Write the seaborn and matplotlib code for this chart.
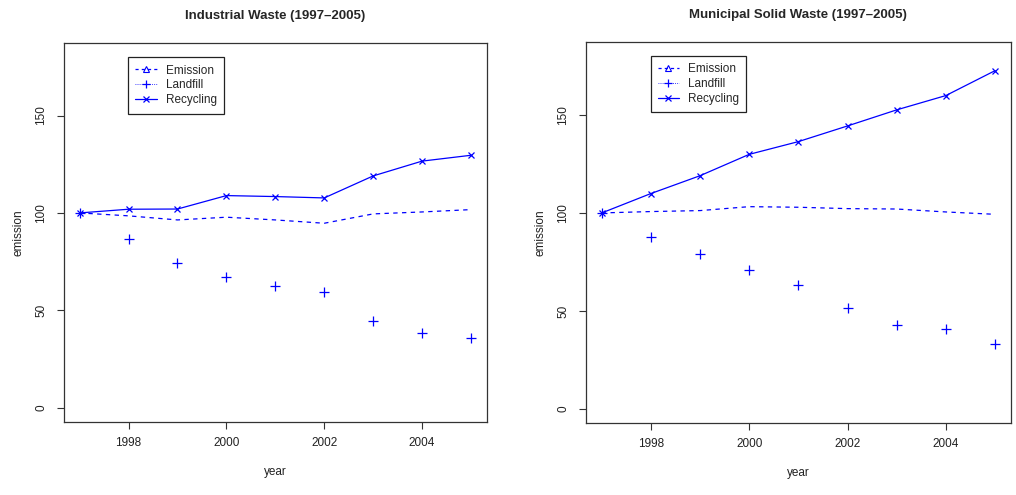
import numpy as np
import pandas as pd
import matplotlib
matplotlib.use("Agg")
import matplotlib.pyplot as plt
from matplotlib.lines import Line2D
import seaborn as sns

years = [1997, 1998, 1999, 2000, 2001, 2002, 2003, 2004, 2005]

ind_emission = [100, 98.5, 96.4, 97.8, 96.4, 94.7, 99.5, 100.5, 101.7]
ind_landfill = [100, 86.4, 74.4, 67.0, 62.5, 59.5, 44.5, 38.5, 35.6]
ind_recycling = [100, 101.9, 102.0, 108.9, 108.4, 107.7, 119.0, 126.6, 129.6]

mun_emission = [100, 100.7, 101.2, 103.2, 102.9, 102.2, 102.0, 100.5, 99.3]
mun_landfill = [100, 87.9, 79.2, 70.9, 63.3, 51.4, 42.9, 40.8, 33.2]
mun_recycling = [100, 109.9, 119.0, 129.9, 136.4, 144.4, 152.6, 159.9, 172.6]

titles = ["Industrial Waste (1997\u20132005)", "Municipal Solid Waste (1997\u20132005)"]
x_ticks = [1998, 2000, 2002, 2004]
y_ticks = [0, 50, 100, 150]
legend_labels = ["Emission", "Landfill", "Recycling"]

sns.set_style("ticks")
plt.rcParams['font.family'] = ['Liberation Sans', 'DejaVu Sans']

BLUE = "#0000FF"
fig = plt.figure(figsize=(10.16, 4.95), dpi=100)
ax1 = fig.add_axes([0.063, 0.148, 0.416, 0.765])
ax2 = fig.add_axes([0.5768, 0.1455, 0.418, 0.7695])

datasets = [
    (ax1, ind_emission, ind_landfill, ind_recycling, titles[0], (0.152, 0.962)),
    (ax2, mun_emission, mun_landfill, mun_recycling, titles[1], (0.152, 0.963)),
]

for ax, em, lf, rc, title, legpos in datasets:
    df = pd.DataFrame({"year": years, "emission": em, "landfill": lf, "recycling": rc})
    sns.lineplot(data=df, x="year", y="emission", ax=ax, color=BLUE, lw=0.9,
                 linestyle=(0, (3.5, 3.5)))
    sns.scatterplot(data=df, x="year", y="landfill", ax=ax, color=BLUE, marker="+",
                    s=50, linewidth=0.9)
    sns.lineplot(data=df, x="year", y="recycling", ax=ax, color=BLUE, lw=0.9,
                 marker="x", markersize=5, markeredgewidth=0.9, markeredgecolor=BLUE)

    ax.set_xlim(1996.68, 2005.32)
    ax.set_ylim(-7.2, 187.2)
    ax.set_xticks(x_ticks)
    ax.set_yticks(y_ticks)
    ax.set_xticklabels([str(v) for v in x_ticks], fontsize=8.5, color="#222222")
    ax.set_yticklabels([str(v) for v in y_ticks], fontsize=8.5, color="#222222",
                       rotation=90, va="center")
    ax.tick_params(axis="both", direction="out", length=5, width=0.8, color="#333333", pad=6)
    ax.tick_params(axis="y", pad=7)
    for sp in ax.spines.values():
        sp.set_visible(True)
        sp.set_linewidth(0.9)
        sp.set_color("#333333")
    ax.set_xlabel("year", fontsize=8.5, color="#222222", labelpad=12)
    ax.set_ylabel("emission", fontsize=8.5, color="#222222", labelpad=8)
    ax.set_title(title, fontsize=9.5, fontweight="bold", pad=17)
    ax.grid(False)

    handles = [
        Line2D([], [], color=BLUE, lw=0.9, linestyle=(0, (2.5, 2.5)), marker="^",
               markersize=5, markerfacecolor="none", markeredgewidth=0.8),
        Line2D([], [], color=BLUE, lw=0.6, linestyle=(0, (1, 1.5)), marker="+",
               markersize=6, markeredgewidth=0.9),
        Line2D([], [], color=BLUE, lw=0.9, linestyle="-", marker="x",
               markersize=5, markeredgewidth=0.9),
    ]
    leg = ax.legend(handles, legend_labels, loc="upper left", bbox_to_anchor=legpos,
                    fontsize=8.5, frameon=True, fancybox=False, framealpha=1,
                    edgecolor="#222222", handlelength=1.8, handletextpad=0.8,
                    borderpad=0.6, labelspacing=0.25, borderaxespad=0)
    leg.get_frame().set_linewidth(0.9)

fig.savefig("out.png", dpi=100)
